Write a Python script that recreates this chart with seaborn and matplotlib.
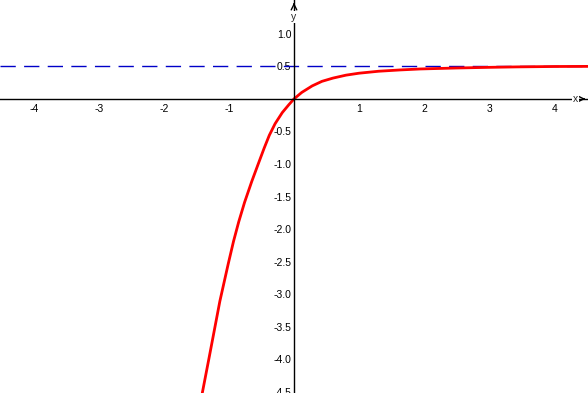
import matplotlib
matplotlib.use("Agg")
import matplotlib.pyplot as plt
import seaborn as sns

# points (x, y)
curve_x = [-1.41, -1.30, -1.22, -1.14, -1.01, -0.93, -0.85, -0.76, -0.65,
           -0.55, -0.46, -0.38, -0.29, -0.18, -0.08, 0.0, 0.12, 0.28, 0.43,
           0.60, 0.80, 1.0, 1.3, 1.63, 1.94, 2.5, 3.0, 3.43, 4.0, 4.6]
curve_y = [-4.52, -3.95, -3.53, -3.11, -2.53, -2.19, -1.89, -1.59, -1.27,
           -1.00, -0.76, -0.56, -0.38, -0.21, -0.09, 0.0, 0.10, 0.20, 0.27,
           0.32, 0.365, 0.395, 0.425, 0.445, 0.46, 0.475, 0.485, 0.492,
           0.498, 0.50]

asymptote = 0.5
x_ticks = [-4, -3, -2, -1, 1, 2, 3, 4]
y_ticks = [-4.5, -4.0, -3.5, -3.0, -2.5, -2.0, -1.5, -1.0, -0.5, 0.5, 1.0]

sns.set_style("white")
plt.rcParams["font.family"] = ["Liberation Sans", "DejaVu Sans"]
plt.rcParams["axes.unicode_minus"] = False

fig = plt.figure(figsize=(5.88, 3.93), dpi=100)
ax = fig.add_axes([0, 0, 1, 1])

# dashed asymptote
ax.axhline(asymptote, color="#0000C8", lw=1, dashes=(11, 6))

# -------------------
# curve
# -------------------
sns.lineplot(x=curve_x, y=curve_y, color="red", lw=2, sort=False,
             estimator=None, ax=ax)

ax.set_xlim(-4.52, 4.52)
ax.set_ylim(-4.52, 1.52)

# axes through the origin
for side in ["top", "right"]:
    ax.spines[side].set_visible(False)
ax.spines["left"].set_position(("data", 0))
ax.spines["bottom"].set_position(("data", 0))
for side in ["left", "bottom"]:
    ax.spines[side].set_color("black")
    ax.spines[side].set_linewidth(1)

ax.set_xticks(x_ticks)
ax.set_xticklabels([str(t) for t in x_ticks])
ax.set_yticks(y_ticks)
ax.set_yticklabels([f"{t:.1f}" for t in y_ticks])
ax.tick_params(axis="both", direction="inout", length=4, width=1,
               labelsize=7.5, colors="black")
ax.tick_params(axis="x", pad=2)
ax.tick_params(axis="y", pad=0)

# axis arrows and names
ax.annotate("", xy=(0, 1.52), xytext=(0, 1.40),
            arrowprops=dict(arrowstyle="->", lw=1, color="black"),
            annotation_clip=False)
ax.text(0, 1.26, "y", fontsize=7.5, ha="center", va="center",
        bbox=dict(facecolor="white", edgecolor="none", pad=0.5))
ax.annotate("", xy=(4.52, 0), xytext=(4.40, 0),
            arrowprops=dict(arrowstyle="->", lw=1, color="black"),
            annotation_clip=False)
ax.text(4.33, 0, "x", fontsize=7.5, ha="center", va="center",
        bbox=dict(facecolor="white", edgecolor="none", pad=0.5))

plt.savefig("out.png", dpi=100)
